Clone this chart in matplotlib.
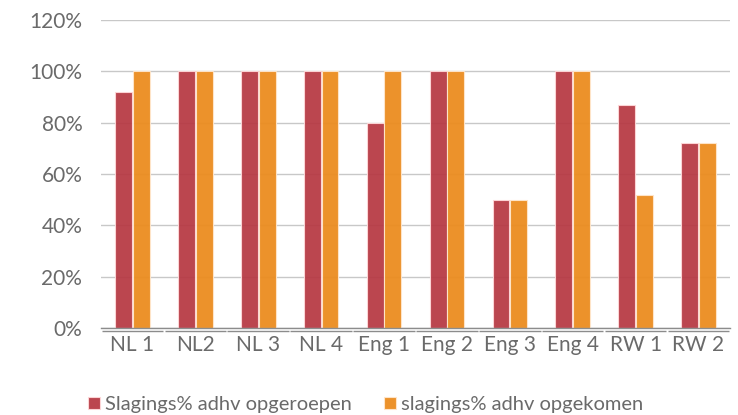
import matplotlib.pyplot as plt
import matplotlib.transforms as mtransforms
import numpy as np

plt.rcParams['font.family'] = ['Lato', 'DejaVu Sans']

# data
categories = ['NL 1', 'NL2', 'NL 3', 'NL 4', 'Eng 1', 'Eng 2', 'Eng 3', 'Eng 4', 'RW 1', 'RW 2']
opgeroepen = [92, 100, 100, 100, 80, 100, 50, 100, 87, 72]
opgekomen = [100, 100, 100, 100, 100, 100, 50, 100, 52, 72]
yticks = [0, 20, 40, 60, 80, 100, 120]
series_labels = ['Slagings% adhv opgeroepen', 'slagings% adhv opgekomen']

red = '#b63842'
orange = '#eb8c1f'
text_gray = '#6a6a6a'

fig = plt.figure(figsize=(7.38, 4.15), dpi=100)
ax = fig.add_axes([0.137, 0.2096, 0.852, 0.7424])

x = np.arange(len(categories))
w = 0.268
ax.bar(x - 0.14, opgeroepen, w, color=red, alpha=0.93,
       edgecolor=(1, 0.85, 0.85, 0.8), linewidth=0.8, label=series_labels[0], zorder=2)
ax.bar(x + 0.14, opgekomen, w, color=orange, alpha=0.95,
       edgecolor=(1, 0.9, 0.8, 0.8), linewidth=0.8, label=series_labels[1], zorder=2)

ax.set_xlim(-0.5, len(categories) - 0.5)
ax.set_ylim(0, 120)
ax.set_yticks(yticks)
ax.set_yticklabels([f'{v}%' for v in yticks])
ax.set_xticks(x)
ax.set_xticklabels(categories)

ax.grid(axis='y', color='#c8c8c8', linewidth=1.0, zorder=1)
ax.set_axisbelow(True)
for s in ['top', 'right', 'left']:
    ax.spines[s].set_visible(False)
ax.spines['bottom'].set_color('#8c8c8c')
ax.spines['bottom'].set_linewidth(1.0)

# second baseline just below the axis, broken between categories
offset = mtransforms.ScaledTranslation(0, -3 / 100, fig.dpi_scale_trans)
trans = mtransforms.blended_transform_factory(ax.transData, ax.transAxes) + offset
for i in range(len(categories)):
    ax.plot([i - 0.49, i + 0.49], [0, 0], color='#8c8c8c', linewidth=1.0,
            transform=trans, clip_on=False, solid_capstyle='butt')

ax.tick_params(axis='y', length=0, pad=13.5, labelsize=15, labelcolor=text_gray)
ax.tick_params(axis='x', length=0, pad=5, labelsize=15, labelcolor=text_gray)

fig.legend(loc='center', bbox_to_anchor=(0.495, 0.025), ncol=2, frameon=False,
           fontsize=14.5, labelcolor=text_gray, handlelength=0.6, handleheight=0.6,
           handletextpad=0.25, columnspacing=1.6)

fig.savefig('out.png', dpi=100)
